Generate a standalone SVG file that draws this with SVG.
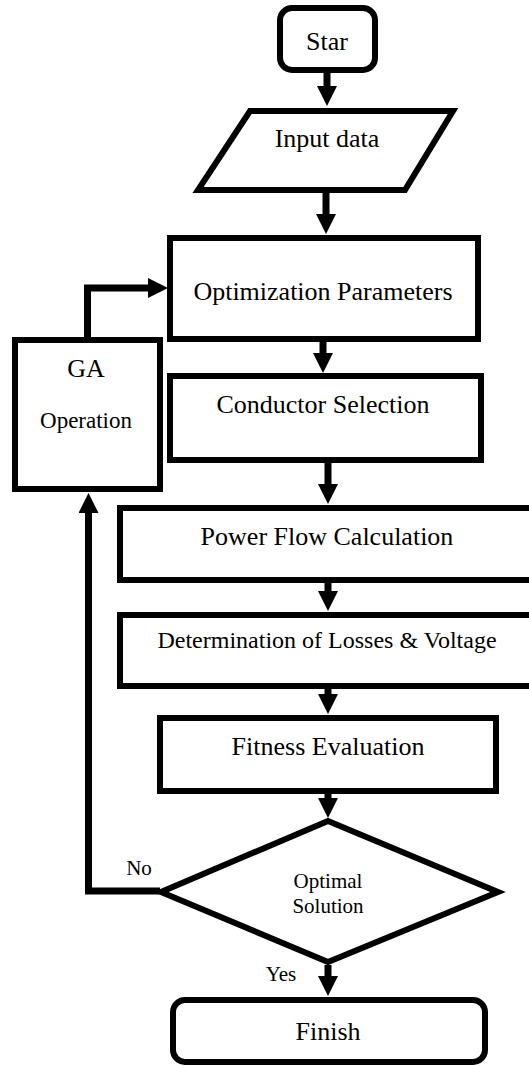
<svg xmlns="http://www.w3.org/2000/svg" width="529" height="1066" viewBox="0 0 529 1066">
<style>
.box{fill:#fff;stroke:#000;stroke-width:6;stroke-linejoin:miter}
.t{font-family:"Liberation Serif","Times New Roman",serif;font-size:26px;fill:#000;text-anchor:middle}
.s{font-size:21px}
.c{fill:none;stroke:#000;stroke-width:7}
</style>
<defs>
<marker id="ah" markerUnits="userSpaceOnUse" markerWidth="20" markerHeight="20" refX="0" refY="10" orient="auto" viewBox="0 0 20 20">
<path d="M0,0 L20,10 L0,20 z" fill="#000"/>
</marker>
</defs>
<rect width="529" height="1066" fill="#fff"/>
<g id="connectors">
<line class="c" x1="327" y1="73" x2="327" y2="86" marker-end="url(#ah)"/>
<line class="c" x1="326" y1="193" x2="326" y2="214" marker-end="url(#ah)"/>
<line class="c" x1="323" y1="342" x2="323" y2="353" marker-end="url(#ah)"/>
<line class="c" x1="328" y1="463" x2="328" y2="484" marker-end="url(#ah)"/>
<line class="c" x1="328" y1="583" x2="328" y2="591" marker-end="url(#ah)"/>
<line class="c" x1="328" y1="689" x2="328" y2="694" marker-end="url(#ah)"/>
<line class="c" x1="328" y1="794" x2="328" y2="798" marker-end="url(#ah)"/>
<line class="c" x1="328" y1="965" x2="328" y2="976" marker-end="url(#ah)"/>
<polyline class="c" points="87.5,337 87.5,288 148,288" marker-end="url(#ah)"/>
<polyline class="c" points="160,891 88.5,891 88.5,513" marker-end="url(#ah)"/>
<text class="t s" x="139" y="875">No</text>
<text class="t s" x="281" y="981">Yes</text>
</g>
<g id="start">
<rect class="box" x="280" y="8" width="95" height="62" rx="12"/>
<text class="t" x="327" y="50">Star</text>
</g>
<g id="input">
<polygon class="box" points="250,111 453,111 405,190 198,190"/>
<text class="t" x="327" y="147">Input data</text>
</g>
<g id="optparams">
<rect class="box" x="170" y="238" width="308" height="101"/>
<text class="t" x="323" y="300">Optimization Parameters</text>
</g>
<g id="ga">
<rect class="box" x="15" y="340" width="145" height="149"/>
<text class="t" x="86" y="377">GA</text>
<text class="t" x="86" y="428" style="font-size:23px">Operation</text>
</g>
<g id="conductor">
<rect class="box" x="170" y="376" width="311" height="84"/>
<text class="t" x="323" y="413">Conductor Selection</text>
</g>
<g id="powerflow">
<rect class="box" x="120" y="508" width="430" height="72"/>
<text class="t" x="327" y="545">Power Flow Calculation</text>
</g>
<g id="losses">
<rect class="box" x="120" y="615" width="430" height="71"/>
<text class="t" x="327" y="648" style="font-size:24px">Determination of Losses &amp; Voltage</text>
</g>
<g id="fitness">
<rect class="box" x="160" y="718" width="336" height="73"/>
<text class="t" x="328" y="755">Fitness Evaluation</text>
</g>
<g id="decision">
<polygon class="box" points="328,821 498,892 328,962 161,892"/>
<text class="t s" x="328" y="888">Optimal</text>
<text class="t s" x="328" y="913">Solution</text>
</g>
<g id="finish">
<rect class="box" x="173" y="1000" width="312" height="62" rx="12"/>
<text class="t" x="328" y="1040">Finish</text>
</g>
</svg>
